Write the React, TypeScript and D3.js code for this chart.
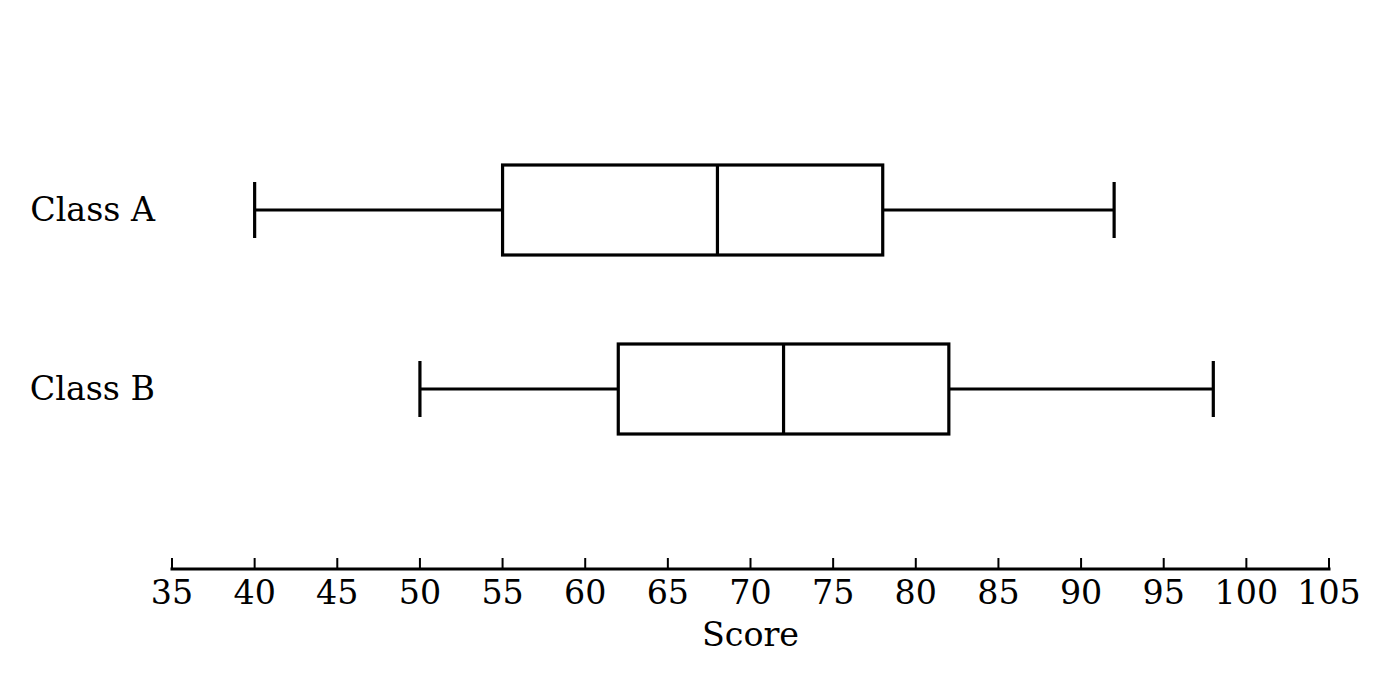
import { useEffect, useRef } from "react";
import * as d3 from "d3";

const categories = ["Class A", "Class B"];
const whiskerLow = [40, 50];
const q1 = [55, 62];
const medians = [68, 72];
const q3 = [78, 82];
const whiskerHigh = [92, 98];
const xTicks = [35, 40, 45, 50, 55, 60, 65, 70, 75, 80, 85, 90, 95, 100, 105];

const W = 1390;
const H = 684;
const FONT = "'DejaVu Serif', serif";
const FS = 33.3;

export default function App() {
  const svgRef = useRef<SVGSVGElement>(null);

  useEffect(() => {
    const svg = d3.select(svgRef.current);
    if (!svg.node()) return;
    svg.selectAll("*").remove();

    const x = d3.scaleLinear().domain([35, 105]).range([172, 1329]);
    const y = d3.scalePoint<string>().domain(categories).range([210, 389]);
    const boxHalf = 45;
    const capHalf = 28;

    const data = categories.map((c, i) => ({
      c,
      lo: whiskerLow[i],
      q1: q1[i],
      med: medians[i],
      q3: q3[i],
      hi: whiskerHigh[i],
    }));

    const g = svg.append("g").attr("stroke", "#000").attr("stroke-width", 3.2).attr("fill", "none");

    const box = g.selectAll("g.box").data(data).join("g").attr("class", "box");

    // whiskers
    box.append("line")
      .attr("x1", (d) => x(d.lo)).attr("x2", (d) => x(d.q1))
      .attr("y1", (d) => y(d.c)!).attr("y2", (d) => y(d.c)!);
    box.append("line")
      .attr("x1", (d) => x(d.q3)).attr("x2", (d) => x(d.hi))
      .attr("y1", (d) => y(d.c)!).attr("y2", (d) => y(d.c)!);
    // caps
    box.append("line")
      .attr("x1", (d) => x(d.lo)).attr("x2", (d) => x(d.lo))
      .attr("y1", (d) => y(d.c)! - capHalf).attr("y2", (d) => y(d.c)! + capHalf);
    box.append("line")
      .attr("x1", (d) => x(d.hi)).attr("x2", (d) => x(d.hi))
      .attr("y1", (d) => y(d.c)! - capHalf).attr("y2", (d) => y(d.c)! + capHalf);
    // box
    box.append("rect")
      .attr("x", (d) => x(d.q1))
      .attr("y", (d) => y(d.c)! - boxHalf)
      .attr("width", (d) => x(d.q3) - x(d.q1))
      .attr("height", boxHalf * 2);
    // median
    box.append("line")
      .attr("x1", (d) => x(d.med)).attr("x2", (d) => x(d.med))
      .attr("y1", (d) => y(d.c)! - boxHalf).attr("y2", (d) => y(d.c)! + boxHalf);

    // category labels
    svg.append("g").selectAll("text").data(categories).join("text")
      .attr("x", 155)
      .attr("y", (d) => y(d)! + 11)
      .attr("text-anchor", "end")
      .attr("font-family", FONT)
      .attr("font-size", FS)
      .attr("fill", "#000")
      .text((d) => d);

    // x axis
    const axisY = 569;
    const axis = svg.append("g");
    axis.append("line")
      .attr("x1", x(35) - 1.5).attr("x2", x(105) + 1.5)
      .attr("y1", axisY).attr("y2", axisY)
      .attr("stroke", "#000").attr("stroke-width", 3);
    axis.selectAll("line.tick").data(xTicks).join("line")
      .attr("class", "tick")
      .attr("x1", (d) => x(d)).attr("x2", (d) => x(d))
      .attr("y1", axisY - 11).attr("y2", axisY)
      .attr("stroke", "#000").attr("stroke-width", 2);
    axis.selectAll("text").data(xTicks).join("text")
      .attr("x", (d) => x(d))
      .attr("y", 604)
      .attr("text-anchor", "middle")
      .attr("font-family", FONT)
      .attr("font-size", FS)
      .attr("fill", "#000")
      .text((d) => d);

    svg.append("text")
      .attr("x", x(70))
      .attr("y", 646)
      .attr("text-anchor", "middle")
      .attr("font-family", FONT)
      .attr("font-size", FS)
      .attr("fill", "#000")
      .text("Score");
  }, []);

  return (
    <svg
      ref={svgRef}
      width={W}
      height={H}
      style={{ position: "absolute", left: 0, top: 0, background: "#fff" }}
    />
  );
}
